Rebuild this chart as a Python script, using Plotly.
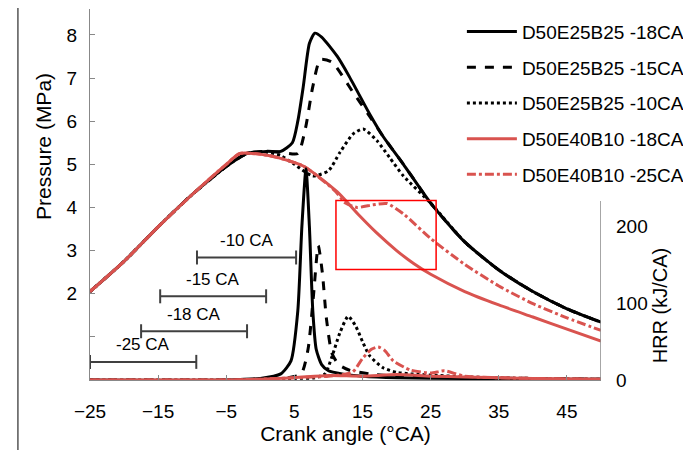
import plotly.graph_objects as go

# pressure (MPa) vs crank angle
ca_p_b18 = [-25, -20, -15, -10, -5, -2, 1, 3, 4.7, 5.5, 6.3, 7.2, 8.0, 9, 11.3, 13, 16.1, 18, 21, 25, 30, 35, 40, 45, 50]
p_b18 = [2.05, 2.75, 3.55, 4.3, 4.95, 5.25, 5.3, 5.3, 5.5, 6.0, 6.8, 7.8, 8.04, 7.95, 7.5, 7.05, 6.15, 5.65, 5.0, 4.1, 3.2, 2.55, 2.05, 1.65, 1.34]
ca_p_b15 = [-25, -20, -15, -10, -5, -2, 1, 3, 5.5, 6.6, 7.7, 8.8, 10.5, 13.6, 16.1, 18, 21, 25, 30, 35, 40, 45, 50]
p_b15 = [2.05, 2.75, 3.55, 4.3, 4.95, 5.25, 5.3, 5.28, 5.25, 5.82, 6.8, 7.43, 7.37, 6.67, 6.1, 5.65, 5.0, 4.1, 3.2, 2.55, 2.05, 1.65, 1.34]
ca_p_b10 = [-25, -20, -15, -10, -5, -2, 1, 3, 5, 7.7, 10, 11.7, 13.6, 15.1, 17.1, 19, 21, 25, 30, 35, 40, 45, 50]
p_b10 = [2.05, 2.75, 3.55, 4.3, 4.95, 5.25, 5.28, 5.2, 5.0, 4.73, 4.85, 5.28, 5.7, 5.82, 5.55, 5.15, 4.73, 4.1, 3.2, 2.55, 2.05, 1.65, 1.34]
ca_p_r18 = [-25, -20, -15, -10, -5, -3, 1.4, 6.3, 11.3, 14.6, 17, 20, 22.5, 25, 30, 35, 40, 45, 50]
p_r18 = [2.05, 2.75, 3.55, 4.3, 5.0, 5.25, 5.2, 4.96, 4.36, 3.8, 3.42, 3.0, 2.7, 2.45, 2.05, 1.74, 1.46, 1.18, 0.9]
ca_p_r25 = [-25, -20, -15, -10, -5, -3, 1.4, 6.3, 11, 12.5, 14.2, 16.5, 18.6, 21, 25, 30, 35, 40, 45, 50]
p_r25 = [2.05, 2.75, 3.55, 4.3, 5.0, 5.25, 5.2, 4.96, 4.38, 4.1, 4.0, 4.06, 4.09, 3.85, 3.28, 2.68, 2.18, 1.77, 1.44, 1.15]

# heat release rate (kJ/CA)
ca_h_b18 = [-25, -5, 0, 3, 4.5, 5.5, 6.1, 6.7, 7.2, 7.7, 8.2, 9, 10, 12, 15, 20, 30, 40, 50]
h_b18 = [0, 0, 2, 8, 25, 90, 200, 275, 200, 90, 40, 20, 12, 8, 5, 3, 2, 1, 1]
ca_h_b15 = [-25, -5, 0, 4, 6, 7, 7.8, 8.5, 9.1, 9.7, 10.5, 11.5, 13, 16, 20, 30, 40, 50]
h_b15 = [0, 0, 1, 3, 8, 40, 110, 175, 140, 80, 35, 20, 13, 8, 5, 3, 2, 1]
ca_h_b10 = [-25, -5, 0, 5, 8, 9.5, 10.5, 11.7, 12.9, 14, 15, 16, 18, 20, 22, 26, 30, 40, 50]
h_b10 = [0, 0, 1, 2, 3, 8, 30, 62, 83, 70, 50, 32, 16, 10, 8, 6, 4, 2, 1]
ca_h_r18 = [-25, -5, 0, 5, 10, 15, 20, 25, 30, 40, 50]
h_r18 = [0, 0, 1, 3, 6, 5, 7, 5, 4, 2, 1]
ca_h_r25 = [-25, -5, 0, 5, 10, 13.5, 15, 16.3, 17.3, 18.3, 19.5, 22, 25, 27, 30, 40, 50]
h_r25 = [0, 0, 1, 3, 5, 10, 28, 40, 43, 38, 25, 13, 9, 12, 5, 2, 1]

# injection timing bars (start, end, pressure-axis level)
bar_labels = ["-10 CA", "-15 CA", "-18 CA", "-25 CA"]
bar_start = [-9.3, -14.7, -17.5, -25]
bar_end = [5.25, 0.85, -1.95, -9.4]
bar_level = [2.84, 1.94, 1.13, 0.42]

FONT = "Liberation Sans"
RED = "#d9534f"

fig = go.Figure()

series = [
    ("D50E25B25 -18CA", ca_p_b18, p_b18, ca_h_b18, h_b18, "black", "solid"),
    ("D50E25B25 -15CA", ca_p_b15, p_b15, ca_h_b15, h_b15, "black", "dash"),
    ("D50E25B25 -10CA", ca_p_b10, p_b10, ca_h_b10, h_b10, "black", "dot"),
    ("D50E40B10 -18CA", ca_p_r18, p_r18, ca_h_r18, h_r18, RED, "solid"),
    ("D50E40B10 -25CA", ca_p_r25, p_r25, ca_h_r25, h_r25, RED, "dashdot"),
]
for name, xp, yp, xh, yh, col, dash in series:
    fig.add_trace(go.Scatter(x=xp, y=yp, mode="lines", name=name, legendgroup=name,
                             line=dict(color=col, width=3, dash=dash, shape="spline", smoothing=0.6)))
    fig.add_trace(go.Scatter(x=xh, y=yh, mode="lines", showlegend=False, yaxis="y2",
                             line=dict(color=col, width=3, dash=dash, shape="spline", smoothing=0.6)))

for lab, s, e, lv in zip(bar_labels, bar_start, bar_end, bar_level):
    fig.add_trace(go.Scatter(x=[s, e], y=[lv, lv], mode="lines+markers", showlegend=False,
                             line=dict(color="#404040", width=2),
                             marker=dict(symbol="line-ns", size=10, line=dict(color="#404040", width=2))))
    fig.add_annotation(x=(s + e) / 2, y=lv, text=lab, showarrow=False, yshift=17,
                       font=dict(size=17, color="black", family=FONT))

fig.add_shape(type="rect", x0=11.1, x1=25.8, y0=2.56, y1=4.16, line=dict(color="red", width=1.5))
# right axis line
fig.add_shape(type="line", x0=50, x1=50, y0=0, y1=233, yref="y2", line=dict(color="#888", width=1.5))
# frame on the left
fig.add_shape(type="line", xref="paper", yref="paper", x0=-0.141, x1=-0.141, y0=-0.2, y1=1.02,
              line=dict(color="black", width=1))

fig.add_annotation(xref="paper", yref="paper", x=-0.117, y=0.63, text="Pressure (MPa)", textangle=-90,
                   showarrow=False, font=dict(size=21, family=FONT, color="black"))
fig.add_annotation(xref="paper", yref="paper", x=1.14, y=0.2, yanchor="middle", text="HRR (kJ/CA)",
                   textangle=-90, showarrow=False, font=dict(size=20, family=FONT, color="black"))

fig.update_layout(
    width=683, height=442,
    margin=dict(l=82, r=90, t=1, b=70, autoexpand=False),
    plot_bgcolor="white", paper_bgcolor="white",
    font=dict(family=FONT, size=19, color="black"),
    showlegend=True,
    legend=dict(x=1.172, y=0.99, xanchor="right", yanchor="top", bgcolor="rgba(0,0,0,0)",
                font=dict(size=19), itemwidth=50, tracegroupgap=8),
    xaxis=dict(range=[-25, 50], tickvals=[-25, -15, -5, 5, 15, 25, 35, 45], showgrid=False,
               zeroline=False, showline=True, linecolor="#888", ticks="inside", tickcolor="#888",
               ticklen=5, ticklabelstandoff=14,
               title=dict(text="Crank angle (°CA)", standoff=0, font=dict(size=21))),
    yaxis=dict(range=[0, 8.6], tickvals=[1, 2, 3, 4, 5, 6, 7, 8], ticktext=["", "2", "3", "4", "5", "6", "7", "8"],
               showgrid=False, zeroline=False, showline=True, linecolor="#888", ticks="inside",
               tickcolor="#888", ticklen=5, ticklabelstandoff=8),
    yaxis2=dict(range=[0, 483], overlaying="y", side="right", anchor="x",
                tickvals=[0, 100, 200], showgrid=False, zeroline=False, showline=False,
                ticks="", ticklabelstandoff=14),
)

fig.write_html("out.html")
